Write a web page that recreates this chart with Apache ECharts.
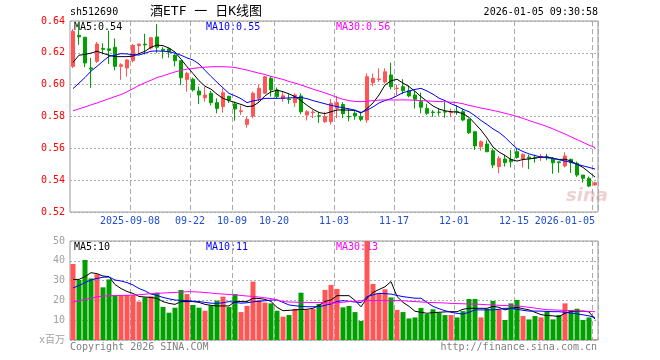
<!DOCTYPE html>
<html><head><meta charset="utf-8">
<script src="https://cdn.jsdelivr.net/npm/echarts@6/dist/echarts.min.js"></script>
<style>html,body{margin:0;padding:0;background:#fff}#c{width:660px;height:360px}</style>
</head><body><div id="c"></div>
<script>
const dates = ['2025-08-25','2025-08-26','2025-08-27','2025-08-28','2025-08-29',
'2025-09-01','2025-09-02','2025-09-03','2025-09-04','2025-09-05',
'2025-09-08','2025-09-09','2025-09-10','2025-09-11','2025-09-12',
'2025-09-15','2025-09-16','2025-09-17','2025-09-18','2025-09-19',
'2025-09-22','2025-09-23','2025-09-24','2025-09-25','2025-09-26',
'2025-09-29','2025-09-30','2025-10-09','2025-10-10',
'2025-10-13','2025-10-14','2025-10-15','2025-10-16','2025-10-17',
'2025-10-20','2025-10-21','2025-10-22','2025-10-23','2025-10-24',
'2025-10-27','2025-10-28','2025-10-29','2025-10-30','2025-10-31',
'2025-11-03','2025-11-04','2025-11-05','2025-11-06','2025-11-07',
'2025-11-10','2025-11-11','2025-11-12','2025-11-13','2025-11-14',
'2025-11-17','2025-11-18','2025-11-19','2025-11-20','2025-11-21',
'2025-11-24','2025-11-25','2025-11-26','2025-11-27','2025-11-28',
'2025-12-01','2025-12-02','2025-12-03','2025-12-04','2025-12-05',
'2025-12-08','2025-12-09','2025-12-10','2025-12-11','2025-12-12',
'2025-12-15','2025-12-16','2025-12-17','2025-12-18','2025-12-19',
'2025-12-22','2025-12-23','2025-12-24','2025-12-25','2025-12-26',
'2025-12-29','2025-12-30','2025-12-31','2026-01-05'];

const tickDates = ['2025-09-08','2025-09-22','2025-10-09','2025-10-20','2025-11-03','2025-11-17','2025-12-01','2025-12-15','2026-01-05'];
const tickLabels = ['2025-09-08','09-22','10-09','10-20','11-03','11-17','12-01','12-15','2026-01-05'];

const open = [0.6115,0.6310,0.6298,0.6105,0.6147,0.6228,0.6225,0.6235,0.6115,0.6105,
0.6151,0.6245,0.6255,0.6230,0.6300,0.6222,0.6225,0.6186,0.6150,0.6033,
0.6034,0.5960,0.5918,0.5946,0.5887,0.5862,0.5927,0.5878,0.5832,0.5751,
0.5803,0.5914,0.5946,0.6040,0.5967,0.5914,0.5910,0.5887,0.5929,0.5809,
0.5824,0.5804,0.5767,0.5767,0.5851,0.5875,0.5800,0.5820,0.5799,0.5778,
0.6012,0.6032,0.6017,0.6061,0.5975,0.5987,0.5962,0.5935,0.5893,0.5851,
0.5828,0.5828,0.5830,0.5824,0.5832,0.5830,0.5782,0.5704,0.5610,0.5627,
0.5585,0.5485,0.5533,0.5531,0.5579,0.5533,0.5545,0.5543,0.5545,0.5546,
0.5537,0.5515,0.5489,0.5531,0.5506,0.5432,0.5412,0.5370];
const close = [0.6335,0.6300,0.6136,0.6098,0.6255,0.6222,0.6215,0.6115,0.6125,0.6155,
0.6247,0.6255,0.6250,0.6295,0.6235,0.6215,0.6205,0.6150,0.6043,0.6071,
0.5967,0.5935,0.5935,0.5887,0.5851,0.5949,0.5903,0.5847,0.5836,0.5782,
0.5946,0.5977,0.6050,0.5967,0.5925,0.5930,0.5906,0.5935,0.5830,0.5830,
0.5828,0.5801,0.5799,0.5883,0.5887,0.5818,0.5798,0.5803,0.5782,0.6050,
0.6040,0.6036,0.6081,0.5987,0.5978,0.5962,0.5929,0.5908,0.5858,0.5820,
0.5825,0.5826,0.5828,0.5828,0.5830,0.5778,0.5698,0.5615,0.5642,0.5579,
0.5495,0.5537,0.5510,0.5516,0.5543,0.5562,0.5538,0.5540,0.5548,0.5543,
0.5509,0.5510,0.5552,0.5509,0.5432,0.5412,0.5363,0.5384];
const low = [0.6105,0.6250,0.6110,0.5980,0.6136,0.6190,0.6130,0.6090,0.6030,0.6050,
0.6140,0.6190,0.6190,0.6220,0.6200,0.6165,0.6170,0.6115,0.5998,0.5956,
0.5957,0.5878,0.5893,0.5870,0.5820,0.5824,0.5885,0.5773,0.5810,0.5730,
0.5789,0.5893,0.5942,0.5925,0.5914,0.5893,0.5880,0.5860,0.5815,0.5775,
0.5790,0.5760,0.5760,0.5750,0.5790,0.5790,0.5770,0.5780,0.5770,0.5761,
0.5990,0.6018,0.6007,0.5971,0.5935,0.5940,0.5920,0.5850,0.5820,0.5810,
0.5798,0.5805,0.5792,0.5795,0.5810,0.5770,0.5690,0.5590,0.5585,0.5575,
0.5475,0.5443,0.5485,0.5480,0.5535,0.5480,0.5470,0.5510,0.5520,0.5525,
0.5440,0.5446,0.5480,0.5445,0.5420,0.5385,0.5356,0.5365];
const high = [0.6350,0.6395,0.6300,0.6168,0.6268,0.6260,0.6340,0.6290,0.6135,0.6160,
0.6255,0.6258,0.6320,0.6298,0.6380,0.6235,0.6228,0.6190,0.6150,0.6081,
0.6044,0.5987,0.5987,0.5960,0.5914,0.5977,0.5930,0.5893,0.5870,0.5799,
0.5956,0.5998,0.6055,0.6054,0.5982,0.5956,0.5940,0.5945,0.5945,0.5840,
0.5840,0.5830,0.5830,0.5910,0.5930,0.5890,0.5850,0.5840,0.5830,0.6071,
0.6070,0.6103,0.6103,0.6138,0.6000,0.6035,0.5995,0.5960,0.5950,0.5880,
0.5840,0.5850,0.5890,0.5850,0.5870,0.5850,0.5788,0.5710,0.5650,0.5650,
0.5600,0.5552,0.5560,0.5590,0.5600,0.5569,0.5560,0.5560,0.5565,0.5565,
0.5545,0.5516,0.5575,0.5535,0.5517,0.5432,0.5423,0.5390];

const ma5 = [0.6140,0.6185,0.6190,0.6198,0.6210,0.6197,0.6185,0.6176,0.6176,0.6176,
0.6180,0.6195,0.6210,0.6235,0.6249,0.6245,0.6230,0.6205,0.6160,0.6113,
0.6070,0.6025,0.5990,0.5972,0.5940,0.5914,0.5900,0.5888,0.5876,0.5862,
0.5866,0.5890,0.5930,0.5955,0.5965,0.5956,0.5942,0.5925,0.5900,0.5870,
0.5845,0.5825,0.5818,0.5830,0.5841,0.5841,0.5840,0.5838,0.5822,0.5850,
0.5885,0.5935,0.5998,0.6024,0.6034,0.6010,0.5988,0.5958,0.5925,0.5895,
0.5866,0.5847,0.5836,0.5830,0.5828,0.5818,0.5795,0.5755,0.5715,0.5665,
0.5608,0.5577,0.5555,0.5530,0.5520,0.5530,0.5533,0.5538,0.5545,0.5546,
0.5538,0.5530,0.5532,0.5520,0.5500,0.5480,0.5450,0.5420];
const ma10 = [0.5975,0.6010,0.6045,0.6085,0.6115,0.6148,0.6178,0.6185,0.6195,0.6193,
0.6188,0.6186,0.6198,0.6210,0.6212,0.6210,0.6207,0.6198,0.6185,0.6168,
0.6155,0.6130,0.6090,0.6052,0.6015,0.5980,0.5945,0.5930,0.5912,0.5887,
0.5898,0.5905,0.5914,0.5914,0.5914,0.5915,0.5917,0.5918,0.5920,0.5912,
0.5900,0.5890,0.5880,0.5870,0.5862,0.5855,0.5848,0.5840,0.5825,0.5840,
0.5860,0.5885,0.5900,0.5912,0.5930,0.5950,0.5960,0.5970,0.5977,0.5960,
0.5940,0.5915,0.5900,0.5880,0.5865,0.5845,0.5830,0.5805,0.5775,0.5750,
0.5722,0.5700,0.5670,0.5632,0.5598,0.5580,0.5565,0.5555,0.5545,0.5540,
0.5537,0.5528,0.5520,0.5512,0.5500,0.5490,0.5480,0.5470];
const ma30 = [0.5835,0.5848,0.5860,0.5873,0.5885,0.5898,0.5912,0.5925,0.5938,0.5955,
0.5975,0.5995,0.6012,0.6028,0.6045,0.6055,0.6068,0.6080,0.6090,0.6098,
0.6102,0.6106,0.6110,0.6112,0.6113,0.6113,0.6111,0.6108,0.6100,0.6092,
0.6082,0.6072,0.6064,0.6052,0.6043,0.6033,0.6020,0.6010,0.5998,0.5985,
0.5972,0.5960,0.5948,0.5935,0.5920,0.5908,0.5900,0.5895,0.5893,0.5896,
0.5900,0.5903,0.5904,0.5904,0.5904,0.5904,0.5904,0.5902,0.5900,0.5898,
0.5896,0.5894,0.5893,0.5890,0.5887,0.5880,0.5870,0.5862,0.5853,0.5846,
0.5838,0.5830,0.5820,0.5811,0.5800,0.5788,0.5775,0.5762,0.5750,0.5737,
0.5722,0.5706,0.5690,0.5672,0.5655,0.5638,0.5620,0.5605];

const volume = [38.4,30.3,40.4,31.1,33.2,26.6,30.6,22.7,22.4,22.7,
22.7,19.4,21.5,22.0,23.9,16.7,13.8,16.3,25.3,23.2,
17.7,16.3,14.8,17.5,19.9,21.9,16.7,23.2,14.1,17.2,
29.5,20.2,18.9,18.5,14.8,11.8,12.6,15.7,23.9,15.2,
15.7,18.2,25.3,27.8,25.8,16.5,17.2,14.1,9.6,50.0,
28.3,23.6,25.6,21.5,15.2,14.1,10.9,11.4,16.2,13.1,
15.5,13.8,12.6,12.6,11.4,14.6,20.7,20.7,11.4,15.8,
19.7,15.5,10.1,18.5,20.2,12.1,10.4,12.1,11.4,14.3,
10.4,12.6,18.5,15.2,15.8,10.1,11.4,0.3];
const volMa5 = [30.6,30.6,32.0,34.0,33.5,32.3,32.0,28.0,26.0,24.5,
23.5,22.0,21.7,21.5,21.0,19.4,18.5,18.0,19.4,19.4,
19.4,19.0,18.0,17.5,17.2,17.2,17.2,19.4,19.4,19.4,
21.1,21.0,20.5,19.5,16.5,14.8,15.0,15.2,15.4,15.5,
16.0,17.5,19.5,20.2,22.4,22.4,22.4,20.0,16.8,21.1,
24.0,25.5,26.9,29.5,22.0,19.0,17.0,14.5,14.0,13.5,
13.8,14.0,14.2,14.3,14.3,15.5,16.0,16.0,16.0,16.0,
17.0,16.5,15.2,16.0,16.5,15.8,15.2,14.0,12.8,12.4,
12.2,11.8,13.5,14.4,14.5,14.6,14.2,10.5];
const volMa10 = [26.3,27.5,29.0,30.3,31.1,31.7,31.8,30.3,29.8,29.0,
27.8,26.0,24.8,23.2,22.5,21.5,20.8,20.2,20.0,19.9,
19.6,19.4,19.0,18.6,18.5,18.8,19.4,19.0,18.6,18.8,
19.3,19.5,19.8,20.2,20.2,19.0,17.7,17.3,17.0,16.8,
16.8,16.8,17.5,18.2,19.5,19.9,19.5,19.2,18.9,21.9,
22.8,23.6,23.4,23.2,22.5,21.9,21.5,21.1,21.1,19.0,
17.0,15.8,14.8,14.0,13.5,13.1,14.0,15.2,15.2,15.2,
15.2,15.5,16.0,16.0,15.5,15.0,14.6,14.6,14.6,14.4,
14.3,14.3,14.0,13.6,13.2,12.7,12.2,11.4];
const volMa30 = [19.2,19.8,20.5,21.1,21.8,22.2,22.3,22.4,22.5,22.6,
22.7,22.9,23.1,23.4,23.6,23.7,23.9,24.0,24.2,24.4,
24.4,24.2,24.0,23.7,23.4,23.2,23.0,22.8,22.5,22.2,
22.0,21.7,21.3,20.9,20.3,19.4,19.2,19.1,19.0,19.0,
18.9,18.9,18.9,18.5,18.8,19.1,19.4,19.6,19.8,19.9,
19.9,19.9,19.9,19.9,19.9,19.8,19.6,19.4,19.2,19.0,
18.9,18.8,18.7,18.5,18.4,18.3,18.2,18.1,18.0,17.8,
17.7,17.5,17.4,17.3,17.2,16.9,16.5,16.1,15.7,15.3,
15.2,15.1,14.9,14.8,14.7,14.6,14.4,14.3];

const priceMin = 0.52, priceMax = 0.64, priceStep = 0.02;
const volMin = 0, volMax = 50, volStep = 10;
const priceLegend = ['MA5:0.54','MA10:0.55','MA30:0.56'];
const volLegend = ['MA5:10','MA10:11','MA30:13'];

const MONO = '"DejaVu Sans Mono", "Noto Sans CJK SC", monospace';
const UP = '#ff5555', DOWN = '#00a000';
const C5 = '#000000', C10 = '#0000ff', C30 = '#ff00ff';
const GRIDC = '#aaaaaa';

const candle = dates.map((d, i) => [open[i], close[i], low[i], high[i]]);
const volData = volume.map((v, i) => ({ value: v, itemStyle: { color: close[i] >= open[i] ? UP : DOWN } }));
const isTick = (i) => tickDates.indexOf(dates[i]) >= 0;

function xAxisDef(gi, showLabel) {
  return {
    type: 'category', gridIndex: gi, data: dates, boundaryGap: true,
    axisLine: { show: false }, axisTick: { show: false },
    splitLine: { show: true, interval: (i) => isTick(i), lineStyle: { color: GRIDC, type: [5, 3], width: 1 } },
    axisLabel: showLabel ? {
      show: true, interval: (i) => isTick(i), margin: 4, alignMaxLabel: 'right',
      formatter: (v) => {
        const k = tickDates.indexOf(v);
        return (v === dates[dates.length - 1] ? '{e|' : '{m|') + tickLabels[k] + '}';
      },
      rich: {
        m: { padding: [0, 6, 0, 0], color: '#1f4fd0', fontFamily: MONO, fontSize: 10 },
        e: { padding: [0, 0, 0, 0], color: '#1f4fd0', fontFamily: MONO, fontSize: 10 }
      }
    } : { show: false }
  };
}

const txt = (x, y, text, color, opts) => Object.assign({
  type: 'text', x: x, y: y, silent: true,
  style: Object.assign({ text: text, fill: color, font: '10px ' + MONO, textVerticalAlign: 'middle' }, (opts && opts.style) || {})
}, (opts && opts.el) || {});

const chart = echarts.init(document.getElementById('c'), null, { renderer: 'canvas' });
chart.setOption({
  animation: false,
  backgroundColor: '#ffffff',
  grid: [
    { left: 70, top: 21, width: 528, height: 191, show: true, borderColor: '#999999', borderWidth: 1, backgroundColor: 'transparent' },
    { left: 70, top: 241, width: 528, height: 99, show: true, borderColor: '#999999', borderWidth: 1, backgroundColor: 'transparent' }
  ],
  xAxis: [xAxisDef(0, true), xAxisDef(1, false)],
  yAxis: [
    { type: 'value', gridIndex: 0, min: priceMin, max: priceMax, interval: priceStep,
      axisLine: { show: false }, axisTick: { show: false },
      axisLabel: { color: '#ff0000', fontFamily: MONO, fontSize: 10, margin: 5, formatter: (v) => v.toFixed(2) },
      splitLine: { show: true, lineStyle: { color: GRIDC, type: [2, 2], width: 1 } } },
    { type: 'value', gridIndex: 1, min: volMin, max: volMax, interval: volStep,
      axisLine: { show: false }, axisTick: { show: false },
      axisLabel: { color: '#a0a0a0', fontFamily: MONO, fontSize: 10, margin: 5, formatter: (v) => v === 0 ? 'x百万' : String(v) },
      splitLine: { show: true, lineStyle: { color: GRIDC, type: [2, 2], width: 1 } } }
  ],
  series: [
    { type: 'candlestick', xAxisIndex: 0, yAxisIndex: 0, data: candle, barWidth: 4,
      itemStyle: { color: UP, color0: DOWN, borderColor: UP, borderColor0: DOWN, borderWidth: 1 } },
    { type: 'line', xAxisIndex: 0, yAxisIndex: 0, data: ma5, symbol: 'none', lineStyle: { color: C5, width: 1 } },
    { type: 'line', xAxisIndex: 0, yAxisIndex: 0, data: ma10, symbol: 'none', lineStyle: { color: C10, width: 1 } },
    { type: 'line', xAxisIndex: 0, yAxisIndex: 0, data: ma30, symbol: 'none', lineStyle: { color: C30, width: 1 } },
    { type: 'bar', xAxisIndex: 1, yAxisIndex: 1, data: volData, barWidth: 5 },
    { type: 'line', xAxisIndex: 1, yAxisIndex: 1, data: volMa5, symbol: 'none', lineStyle: { color: C5, width: 1 } },
    { type: 'line', xAxisIndex: 1, yAxisIndex: 1, data: volMa10, symbol: 'none', lineStyle: { color: C10, width: 1 } },
    { type: 'line', xAxisIndex: 1, yAxisIndex: 1, data: volMa30, symbol: 'none', lineStyle: { color: C30, width: 1 } }
  ],
  graphic: [
    txt(70, 12, 'sh512690', '#000'),
    txt(150, 12, '酒ETF 一 日K线图', '#000', { style: { font: '13px ' + MONO } }),
    txt(598, 12, '2026-01-05 09:30:58', '#000', { style: { textAlign: 'right' } }),
    txt(74, 27, priceLegend[0], C5),
    txt(206, 27, priceLegend[1], C10),
    txt(336, 27, priceLegend[2], C30),
    txt(74, 247, volLegend[0], C5),
    txt(206, 247, volLegend[1], C10),
    txt(336, 247, volLegend[2], C30),
    txt(70, 347, 'Copyright 2026 SINA.COM', '#808080'),
    txt(597, 347, 'http://finance.sina.com.cn', '#808080', { style: { textAlign: 'right' } }),
    txt(566, 196, 'sina', 'rgba(210,120,120,0.35)', { style: { font: 'italic bold 18px "DejaVu Sans"' } })
  ]
});
</script></body></html>
